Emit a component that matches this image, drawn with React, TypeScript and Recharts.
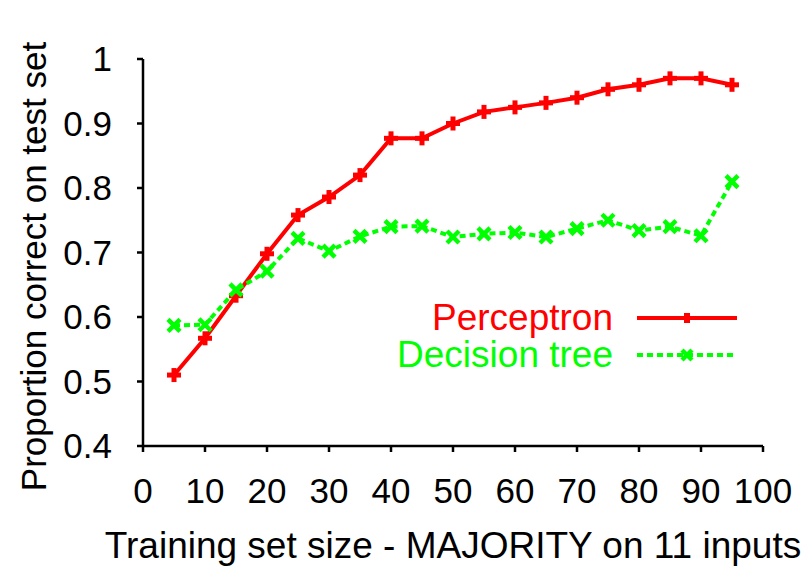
import React from 'react';
import { LineChart, Line, XAxis, YAxis, Label } from 'recharts';

// training set sizes and proportion correct
const sizes = [5, 10, 15, 20, 25, 30, 35, 40, 45, 50, 55, 60, 65, 70, 75, 80, 85, 90, 95];
const perceptron = [0.51, 0.567, 0.633, 0.698, 0.758, 0.786, 0.82, 0.877, 0.877, 0.9, 0.918, 0.925, 0.932, 0.94, 0.953, 0.96, 0.97, 0.97, 0.96];
const decisionTree = [0.587, 0.588, 0.642, 0.671, 0.722, 0.702, 0.725, 0.74, 0.741, 0.724, 0.729, 0.731, 0.724, 0.737, 0.75, 0.734, 0.74, 0.726, 0.81];
const xTicks = [0, 10, 20, 30, 40, 50, 60, 70, 80, 90, 100];
const yTicks = [0.4, 0.5, 0.6, 0.7, 0.8, 0.9, 1];

const data = sizes.map((x, i) => ({ x, perceptron: perceptron[i], tree: decisionTree[i] }));

const RED = '#ff0000';
const GREEN = '#00ff00';
const FONT = '"Liberation Sans", Arial, sans-serif';

const PlusDot = (props: any) => {
  const { cx, cy } = props;
  if (cx == null || cy == null) return null;
  return (
    <g>
      <rect x={cx - 7} y={cy - 2.5} width={14} height={5} fill={RED} />
      <rect x={cx - 2.5} y={cy - 7} width={5} height={14} fill={RED} />
    </g>
  );
};

const CrossDot = (props: any) => {
  const { cx, cy } = props;
  if (cx == null || cy == null) return null;
  return (
    <g stroke={GREEN} strokeWidth={4.5}>
      <line x1={cx - 6} y1={cy - 6} x2={cx + 6} y2={cy + 6} />
      <line x1={cx - 6} y1={cy + 6} x2={cx + 6} y2={cy - 6} />
    </g>
  );
};

// legend drawn as an overlay in page coordinates
const LegendBox = () => (
  <svg
    width={810}
    height={566}
    style={{ position: 'absolute', left: 0, top: 0, pointerEvents: 'none' }}
  >
    <g fontFamily={FONT} fontSize={37}>
      <text x={613} y={330} textAnchor="end" fill={RED}>Perceptron</text>
      <line x1={637} y1={318} x2={737} y2={318} stroke={RED} strokeWidth={4} />
      <rect x={684} y={313} width={6} height={10} fill={RED} />
      <text x={613} y={367} textAnchor="end" fill={GREEN}>Decision tree</text>
      <line x1={637} y1={355} x2={737} y2={355} stroke={GREEN} strokeWidth={4} strokeDasharray="6 4" />
      <line x1={682} y1={350} x2={692} y2={360} stroke={GREEN} strokeWidth={4.5} />
      <line x1={682} y1={360} x2={692} y2={350} stroke={GREEN} strokeWidth={4.5} />
    </g>
  </svg>
);

export default function App() {
  return (
    <div style={{ position: 'absolute', left: 0, top: 0, width: 810, height: 566, background: '#fff' }}>
      <LineChart width={810} height={566} data={data} margin={{ top: 59, right: 47, bottom: 0, left: 0 }}>
        <XAxis
          type="number"
          dataKey="x"
          domain={[0, 100]}
          ticks={xTicks}
          height={120}
          stroke="#000"
          strokeWidth={2.5}
          tickSize={6}
          tickMargin={26}
          tick={{ fill: '#000', fontSize: 35, fontFamily: FONT }}
          interval={0}
        >
          <Label
            content={({ viewBox }: any) => (
              <text
                x={viewBox.x + viewBox.width / 2}
                y={viewBox.y + 112}
                textAnchor="middle"
                fontSize={37}
                fontFamily={FONT}
                fill="#000"
              >
                Training set size - MAJORITY on 11 inputs
              </text>
            )}
          />
        </XAxis>
        <YAxis
          type="number"
          domain={[0.4, 1]}
          ticks={yTicks}
          width={143}
          stroke="#000"
          strokeWidth={2.5}
          tickSize={6}
          tickMargin={25}
          tick={{ fill: '#000', fontSize: 35, fontFamily: FONT }}
          interval={0}
        >
          <Label
            content={({ viewBox }: any) => {
              const x = 46;
              const y = viewBox.y + viewBox.height / 2 + 14;
              return (
                <text
                  x={x}
                  y={y}
                  transform={`rotate(-90, ${x}, ${y})`}
                  textAnchor="middle"
                  fontSize={35}
                  fontFamily={FONT}
                  fill="#000"
                >
                  Proportion correct on test set
                </text>
              );
            }}
          />
        </YAxis>
        <Line
          dataKey="perceptron"
          stroke={RED}
          strokeWidth={4}
          dot={<PlusDot />}
          activeDot={false}
          isAnimationActive={false}
        />
        <Line
          dataKey="tree"
          stroke={GREEN}
          strokeWidth={4}
          strokeDasharray="6 4"
          dot={<CrossDot />}
          activeDot={false}
          isAnimationActive={false}
        />
      </LineChart>
      <LegendBox />
    </div>
  );
}
